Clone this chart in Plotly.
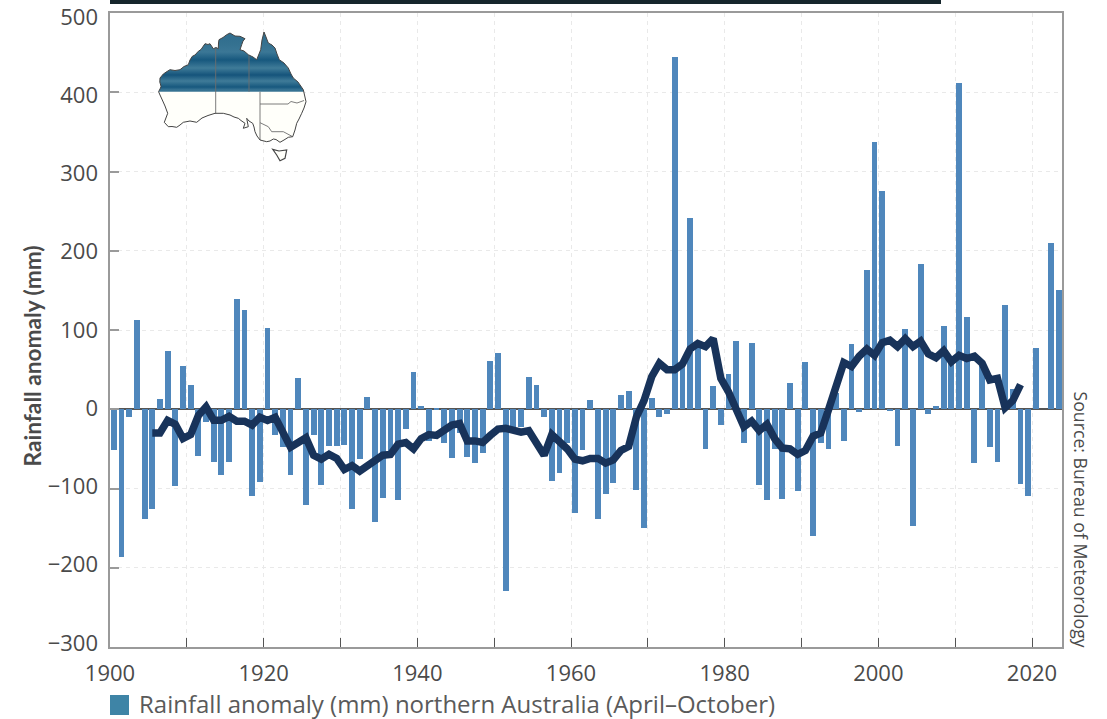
import base64
import plotly.graph_objects as go

# ---- data ----
years = list(range(1900, 2024))
anomaly = [
    -52, -186, -10, 112, -139, -126, 13, 73, -97, 54,
    30, -59, -16, -66, -83, -67, 139, 125, -110, -92,
    102, -32, -47, -83, 39, -121, -33, -96, -46, -46,
    -45, -126, -63, 15, -142, -112, -57, -115, -25, 47,
    4, -40, 1, -42, -61, -30, -60, -68, -55, 61,
    71, -229, -24, -22, 41, 30, -10, -91, -81, -43,
    -131, -51, 12, -139, -107, -93, 18, 23, -102, -150,
    14, -10, -6, 445, 56, 241, 83, -50, 29, -20,
    45, 86, -42, 83, -96, -115, -50, -113, 33, -103,
    59, -160, -42, -50, 20, -40, 82, -4, 176, 337,
    276, -2, -46, 101, -147, 183, -6, 4, 105, 60,
    412, 117, -68, 58, -47, -66, 132, 25, -94, -109,
    77, 0, 210, 151,
]
avg_years = list(range(1905, 2019))
avg_values = [
    -30, -30, -14, -19, -37, -32, -8, 3, -14, -14,
    -9, -15, -15, -20, -10, -14, -10, -31, -48, -42,
    -36, -58, -63, -57, -62, -76, -71, -78, -71, -63,
    -58, -57, -44, -42, -50, -37, -32, -33, -27, -20,
    -18, -40, -40, -42, -33, -25, -24, -27, -29, -27,
    -44, -58, -32, -41, -50, -63, -65, -62, -62, -68,
    -64, -52, -47, -10, 11, 41, 58, 50, 50, 57,
    76, 83, 79, 89, 39, 22, -3, -22, -15, -27,
    -19, -37, -49, -50, -57, -52, -34, -30, -1, 26,
    59, 54, 67, 76, 68, 84, 87, 79, 89, 79,
    86, 70, 65, 74, 60, 68, 64, 67, 58, 37,
    39, 2, 11, 31,
]
x_labels = list(range(1900, 2021, 20))
y_ticks = list(range(-300, 501, 100))
legend_label = "Rainfall anomaly (mm) northern Australia (April–October)"
source_label = "Source: Bureau of Meteorology"
y_title = "Rainfall anomaly (mm)"

# inset map outline (pixel positions in the map box)
map_coast = [(158.6,91.7),(160.5,88),(161,86.3),(159.8,82),(160,78),(163.3,74),(167,71.5),(170,69.7),(175,70.5),(180,69.7),
             (184,66.5),(188.3,64.7),(190,60),(192.3,56.3),(195,55),(198.3,51.3),(201,49.5),(205,43.7),(208,44.5),(210,43.7),
             (213.3,48.7),(216,47.5),(218.3,48.7),(218.5,43),(219,39.7),(223,37.5),(226.7,34.7),(230,33),(235,36),(240,36.3),
             (245,38.7),(243,41),(241.7,44.7),(240,49.7),(244,51),(248.3,54.7),(253,57),(256.7,59.7),(259,54),(260.7,49.7),
             (262,40),(264,32),(266,37),(268.3,43),(272,45),(275,48),(277,54),(279.3,59.7),(284,63),(288.3,68),(291,74),
             (293.3,78),(298,82),(303.3,89.7),(304.5,95),(306,101.7),(304,108),(301.7,113.3),(299,119),(296.7,123.3),
             (295,130),(292.7,136.7),(288.3,137.3),(284,140),(280,142.3),(276,139.5),(273.3,139),(270,141),(266.7,141.7),
             (260,140),(257,136),(255,131.7),(254,127),(252.7,123.3),(249,121),(246.7,118.3),(248.3,126.7),(243.3,128.3),
             (245,123.3),(241,120.5),(238.3,118.3),(234,117),(230,115),(223.3,113.3),(215,113.3),(208,115.5),(202,118),
             (196.7,122.3),(190,121),(183.3,122.3),(180,125),(176.7,127.3),(172,126.5),(168.3,126.7),(164.3,122.3),
             (167.7,113.3),(165,106),(162.3,100),(160,95)]
map_tas = [(272.7,149.3),(279,151),(286.7,150),(285,158.3),(280,160.7),(276.7,155)]
map_borders = [[(215.7,48),(215.7,113.3)], [(249,55),(249,91.7)], [(260,91.7),(260,140)],
               [(260,104),(288,104),(291,101.5),(297,103),(304,100.5)],
               [(260,122.7),(268.3,126.7),(271.7,131.7),(283.3,131.7),(292.7,136.7)]]

# ---- inset map as an svg image with the banded north fill ----
MAP_X0, MAP_Y0, MAP_W, MAP_H = 155, 28, 155, 137
PLOT_L, PLOT_R, PLOT_T, PLOT_B = 110, 1062, 13, 647
W, H = 1107, 719


def pts(seq):
    return " ".join(f"{a:.1f},{b:.1f}" for a, b in seq)


band_stops = [(30, "#2f6c8d"), (44, "#347190"), (52, "#3b7796"), (60, "#17587e"), (68, "#3f7b98"), (75, "#15547b"),
              (81, "#3f7b98"), (87, "#17587e"), (90, "#3a7594"), (91.7, "#2c6b8c")]
stops = "".join(
    f'<stop offset="{(a - 30) / 61.7:.3f}" stop-color="{c}"/>' for a, c in band_stops
)
svg = (
    f'<svg xmlns="http://www.w3.org/2000/svg" width="{MAP_W}" height="{MAP_H}" '
    f'viewBox="{MAP_X0} {MAP_Y0} {MAP_W} {MAP_H}">'
    f'<defs><linearGradient id="g" gradientUnits="userSpaceOnUse" x1="0" y1="30" x2="0" y2="91.7">{stops}</linearGradient>'
    f'<clipPath id="c"><polygon points="{pts(map_coast)}"/></clipPath></defs>'
    f'<polygon points="{pts(map_coast)}" fill="#fffffa"/>'
    f'<polygon points="{pts(map_tas)}" fill="#fffffa" stroke="#444" stroke-width="1.2"/>'
    f'<rect x="150" y="28" width="165" height="63.7" fill="url(#g)" clip-path="url(#c)"/>'
    + "".join(f'<polyline points="{pts(b)}" fill="none" stroke="#6e6e6e" stroke-width="0.9"/>' for b in map_borders)
    + f'<polygon points="{pts(map_coast)}" fill="none" stroke="#444" stroke-width="1"/>'
    "</svg>"
)
svg_uri = "data:image/svg+xml;base64," + base64.b64encode(svg.encode()).decode()

pw, ph = PLOT_R - PLOT_L, PLOT_B - PLOT_T


def px(x):
    return (x - PLOT_L) / pw


def py(y):
    return (PLOT_B - y) / ph


FONT = "Open Sans"
TEXT = "#4a4a4a"
GRID = "#e9e9e9"

fig = go.Figure()
fig.add_bar(
    x=[y + 0.5 for y in years], y=anomaly, width=0.76,
    marker=dict(color="#4f87bc", line=dict(width=0)), name="Rainfall anomaly", showlegend=False,
)
fig.add_scatter(
    x=[y + 0.5 for y in avg_years], y=avg_values, mode="lines",
    line=dict(color="#18335a", width=7.5, shape="linear"), name="Running average", showlegend=False,
)
# empty trace so the label-only y axis (labels sit slightly inside the tick span, as in the source) is drawn
fig.add_scatter(x=[None], y=[None], yaxis="y2", mode="lines", showlegend=False, hoverinfo="skip")

fig.update_layout(
    width=W, height=H, margin=dict(l=PLOT_L, r=W - PLOT_R, t=PLOT_T, b=H - PLOT_B, autoexpand=False),
    paper_bgcolor="white", plot_bgcolor="white", font=dict(family=FONT, color=TEXT, size=22),
    bargap=0, showlegend=False,
    xaxis=dict(
        range=[1900, 2023.9], tickmode="array", tickvals=x_labels, ticks="inside", ticklen=9, tickwidth=1,
        tickcolor="#555", showline=True, linecolor="#9a9a9a", linewidth=2, mirror=True,
        showgrid=True, griddash="4px,4px", gridcolor=GRID, gridwidth=1, zeroline=False,
        minor=dict(dtick=10, tick0=1900, ticks="inside", ticklen=9, tickwidth=1, tickcolor="#555",
                   showgrid=True, griddash="4px,4px", gridcolor=GRID, gridwidth=1),
        tickfont=dict(size=22, family=FONT, color=TEXT), ticklabelstandoff=6, ticklabeloverflow="allow",
    ),
    yaxis=dict(
        range=[-300, 500], tickmode="array", tickvals=y_ticks, ticks="inside", ticklen=9, tickwidth=1.5,
        tickcolor="#9a9a9a", showline=True, linecolor="#9a9a9a", linewidth=2, mirror=True,
        showgrid=True, griddash="4px,4px", gridcolor=GRID, gridwidth=1,
        zeroline=True, zerolinecolor="#555", zerolinewidth=1.5, showticklabels=False,
    ),
    yaxis2=dict(
        overlaying="y", side="left", anchor="x", range=[-305.1, 505.1], tickmode="array", tickvals=y_ticks,
        ticks="", showgrid=False, zeroline=False, showline=False,
        tickfont=dict(size=22, family=FONT, color=TEXT), ticklabelstandoff=11, ticklabeloverflow="allow",
    ),
    images=[dict(source=svg_uri, xref="paper", yref="paper", x=px(MAP_X0), y=py(MAP_Y0),
                 sizex=MAP_W / pw, sizey=MAP_H / ph, xanchor="left", yanchor="top",
                 sizing="stretch", layer="above")],
    shapes=[
        dict(type="rect", xref="paper", yref="paper", x0=px(110), x1=px(941), y0=py(0), y1=py(4),
             fillcolor="#16262c", line=dict(width=0)),
        dict(type="rect", xref="paper", yref="paper", x0=px(110), x1=px(129), y0=py(695), y1=py(715),
             fillcolor="#3e84a6", line=dict(width=0)),
    ],
    annotations=[
        dict(text=f"<b>{y_title}</b>", xref="paper", yref="paper", x=px(32), y=py(356.5), xanchor="center", yanchor="middle",
             textangle=-90, showarrow=False, font=dict(size=22.7, family="Lato", color=TEXT)),
        dict(text=legend_label, xref="paper", yref="paper", x=px(137), y=py(703.5), xanchor="left", yanchor="middle",
             showarrow=False, font=dict(size=24, family=FONT, color="#5a5a5a")),
        dict(text=source_label, xref="paper", yref="paper", x=px(1081), y=py(519.5), xanchor="center", yanchor="middle",
             textangle=90, showarrow=False, font=dict(size=17.7, family=FONT, color=TEXT)),
    ],
)

fig.write_html("out.html", config={"displayModeBar": False},
               post_script="document.body.style.margin='0';document.body.style.overflow='hidden';")
